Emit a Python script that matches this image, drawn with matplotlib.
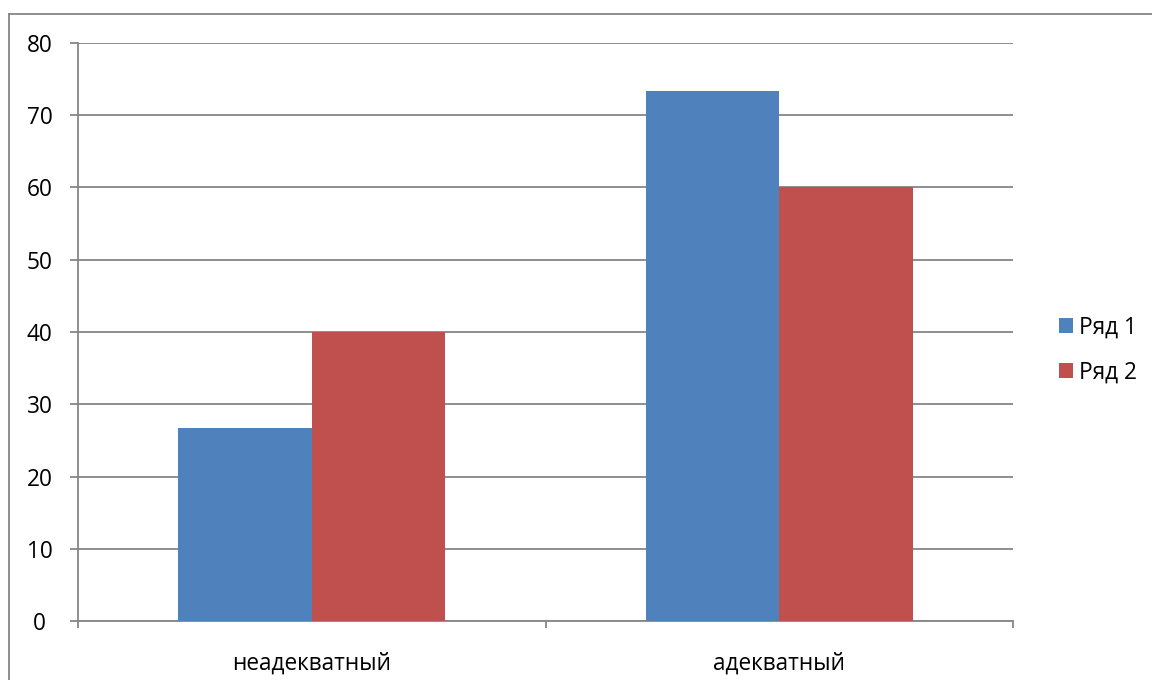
import numpy as np
import matplotlib.pyplot as plt
from matplotlib.lines import Line2D

# ----------------------------------------------------------------------------------------------------------------------
# Data
# ----------------------------------------------------------------------------------------------------------------------
categories = ['неадекватный', 'адекватный']
series_names = ['Ряд 1', 'Ряд 2']
row1 = [26.67, 73.33]
row2 = [40.0, 60.0]
y_ticks = [0, 10, 20, 30, 40, 50, 60, 70, 80]

blue = '#4F81BD'
red = '#C0504D'
grey = '#868686'

plt.rcParams['font.family'] = ['Open Sans', 'DejaVu Sans']
fs = 16.3

# ----------------------------------------------------------------------------------------------------------------------
# Plot
# ----------------------------------------------------------------------------------------------------------------------
fig = plt.figure(figsize=(11.52, 6.8), dpi=100)
ax = fig.add_axes([78 / 1152, 1 - 621 / 680, (1013 - 78) / 1152, (621 - 43) / 680])

x = np.arange(len(categories))
w = 1 / 3.5
b1 = ax.bar(x - w / 2, row1, width=w, color=blue, label=series_names[0], zorder=3)
b2 = ax.bar(x + w / 2, row2, width=w, color=red, label=series_names[1], zorder=3)

ax.set_xlim(-0.5, len(categories) - 0.5)
ax.set_ylim(0, 80)
ax.set_yticks(y_ticks)
ax.set_yticklabels([str(t) for t in y_ticks], ha='center')
ax.yaxis.grid(True, color=grey, linewidth=1.3, zorder=0)
ax.set_axisbelow(True)

# category labels between boundary ticks
ax.set_xticks(x)
ax.set_xticklabels(categories)
ax.set_xticks(np.arange(-0.5, len(categories)), minor=True)
ax.tick_params(axis='x', which='major', length=0, pad=22, labelsize=fs)
ax.tick_params(axis='x', which='minor', length=5, width=1.3, color=grey, direction='out')
ax.tick_params(axis='y', length=6, width=1.3, color=grey, pad=21.5, labelsize=fs)

for side in ['top', 'right']:
    ax.spines[side].set_visible(False)
for side in ['left', 'bottom']:
    ax.spines[side].set_color(grey)
    ax.spines[side].set_linewidth(1.3)

fig.legend(handles=[b1, b2], loc='center left', bbox_to_anchor=(1050 / 1152, 1 - 350 / 680),
           frameon=False, fontsize=fs, handlelength=0.62, handleheight=0.62,
           handletextpad=0.25, labelspacing=0.95, borderaxespad=0)

# outer frame of the chart area
fig.add_artist(Line2D([8.5 / 1152, 8.5 / 1152], [0, 1 - 13.5 / 680], transform=fig.transFigure,
                      color=grey, linewidth=1.3))
fig.add_artist(Line2D([8.5 / 1152, 1], [1 - 13.5 / 680, 1 - 13.5 / 680], transform=fig.transFigure,
                      color=grey, linewidth=1.3))

plt.savefig('out.png', dpi=100)
